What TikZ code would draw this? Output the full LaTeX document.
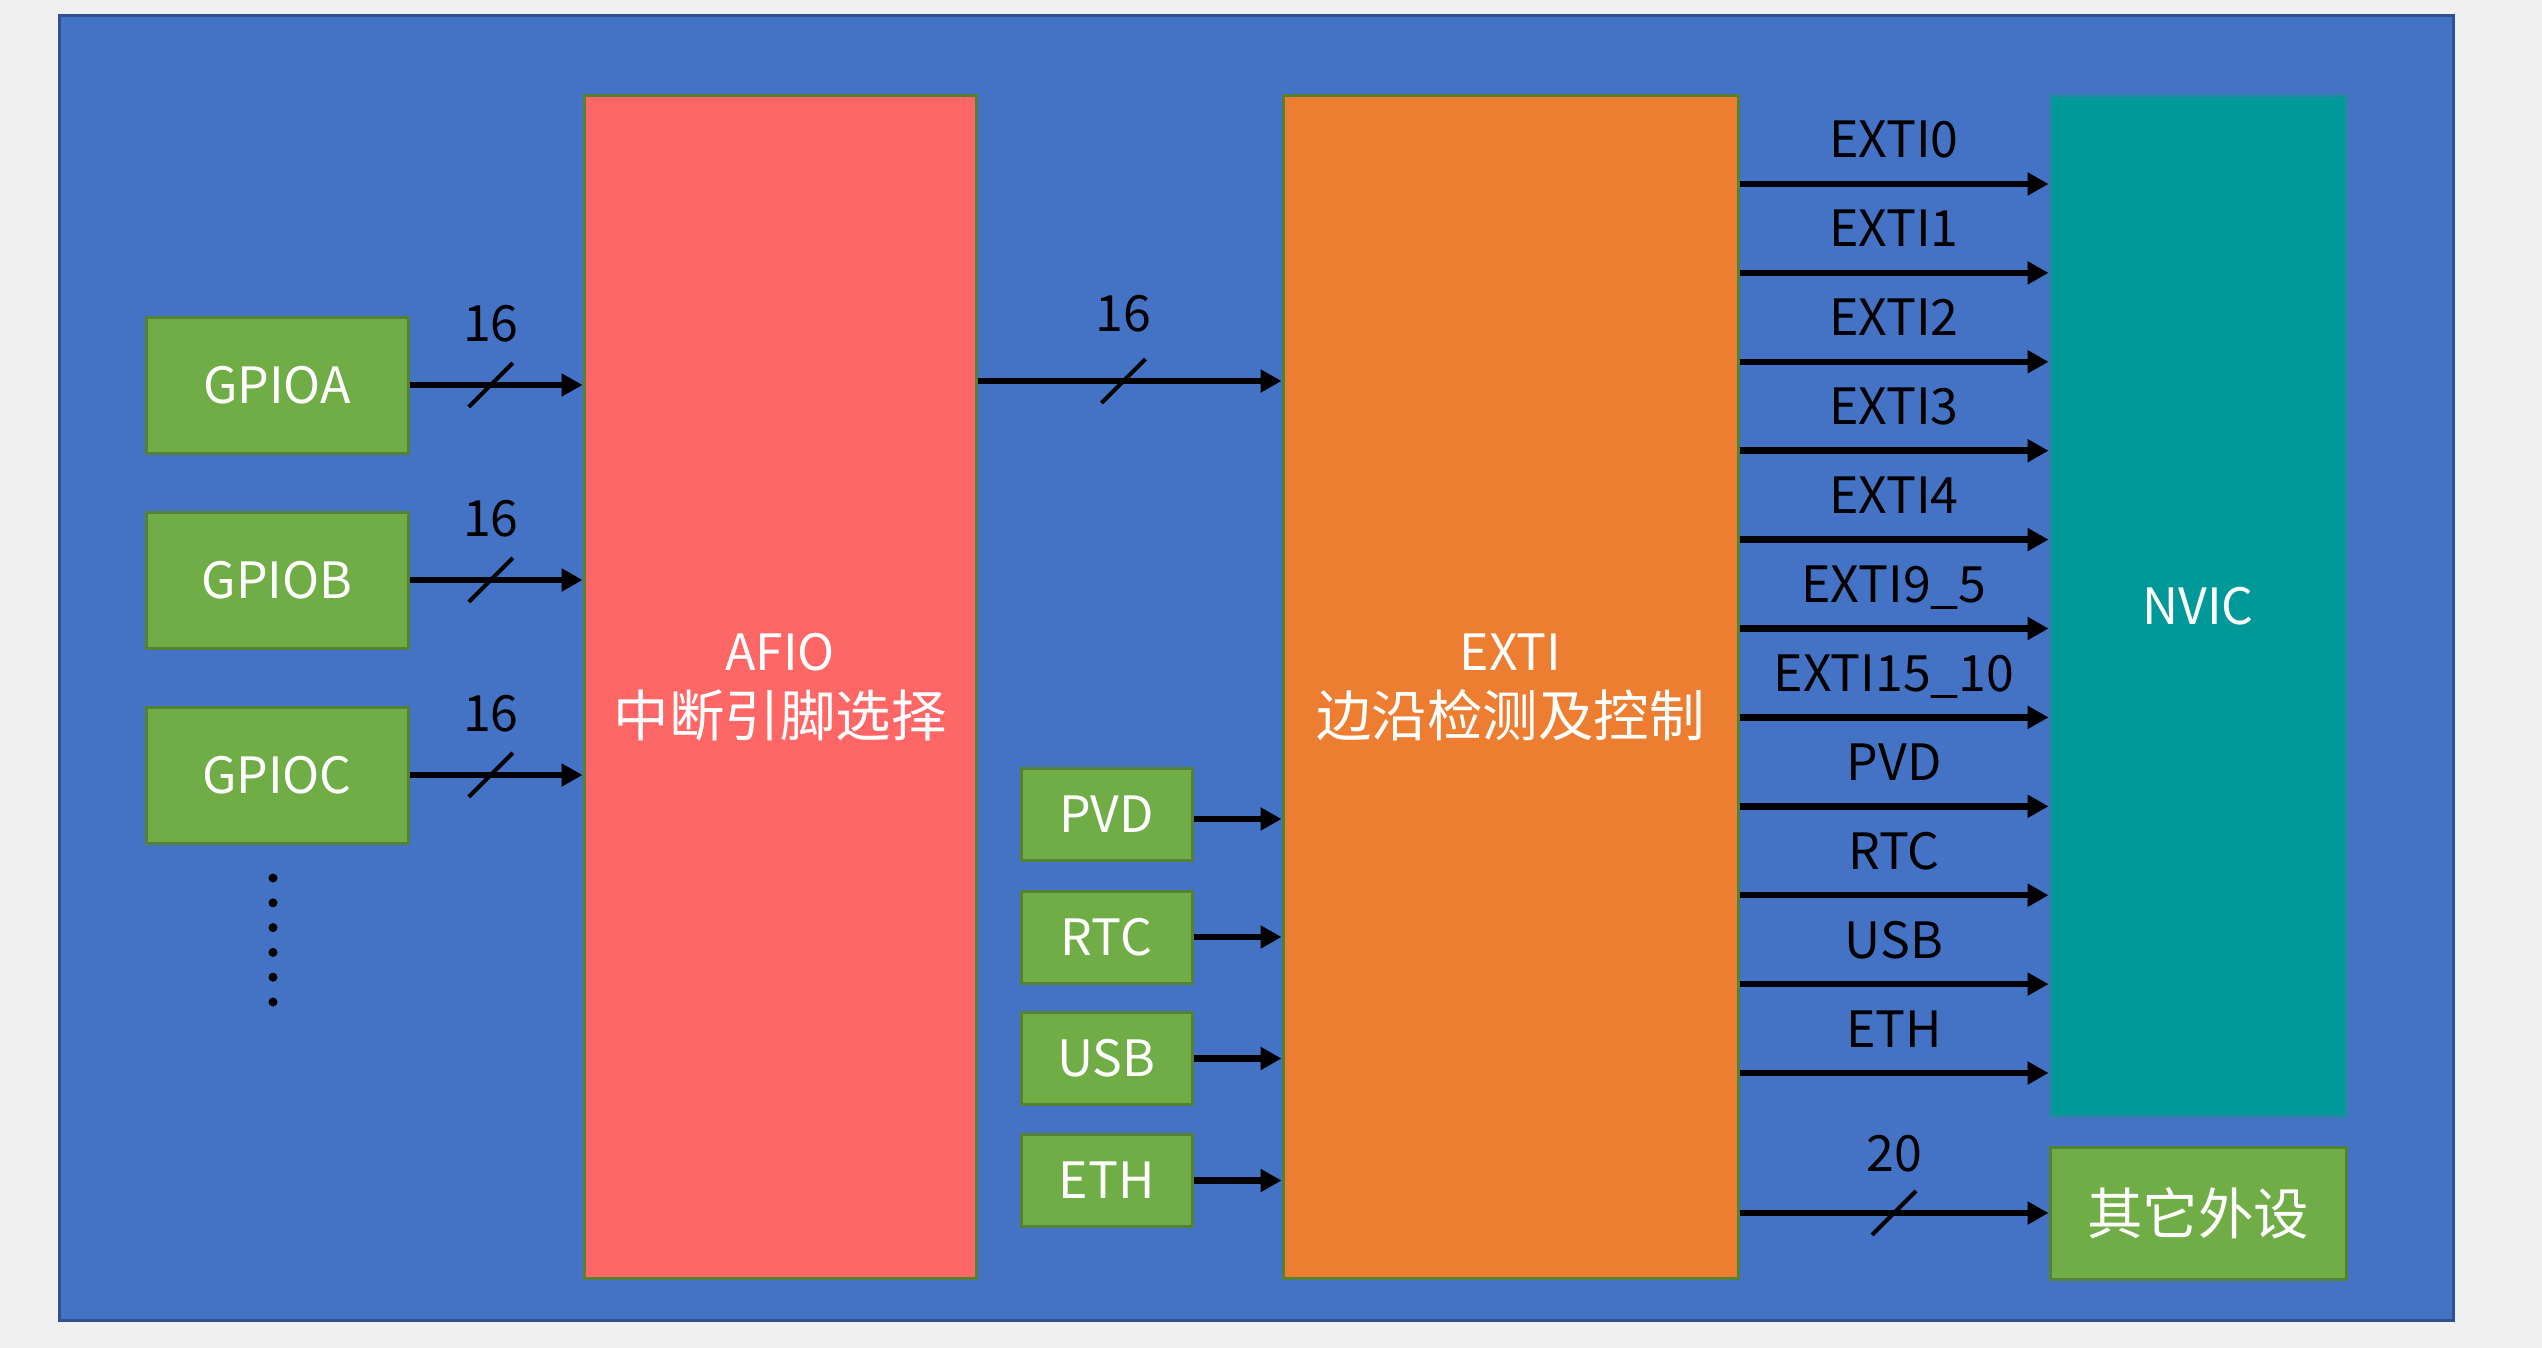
\documentclass[tikz,border=0pt]{standalone}
\usepackage{fontspec}
\setmainfont{Noto Sans CJK SC}
\usetikzlibrary{arrows.meta}
\definecolor{pagebg}{HTML}{F0F0F0}
\definecolor{panel}{HTML}{4472C4}
\definecolor{panelline}{HTML}{2F528F}
\definecolor{afiocol}{HTML}{FF6666}
\definecolor{exticol}{HTML}{ED7D31}
\definecolor{nviccol}{HTML}{009999}
\definecolor{nvicline}{HTML}{2A86A8}
\definecolor{greencol}{HTML}{70AD47}
\definecolor{greenline}{HTML}{538135}
\newcommand\cnsize{\fontsize{55.5}{66}\selectfont}
\begin{document}
\begin{tikzpicture}[x=1pt,y=-1pt,
  txt/.style={font=\fontsize{50}{66}\selectfont},
  blockbox/.style={draw=greenline, line width=3pt, inner sep=0pt, text=white, txt, align=center},
  srcbox/.style={blockbox, fill=greencol},
  sig/.style={line width=6.5pt, -{Triangle[length=21pt,width=22pt]}},
  slashline/.style={line width=4pt},
  lbl/.style={txt, text=black, inner sep=0pt, anchor=base}
]
\useasboundingbox[fill=pagebg] (0,0) rectangle (2542,1348);
\draw[fill=panel, draw=panelline, line width=3pt] (59,16) rectangle (2453,1320);

% main blocks
\node[blockbox, fill=afiocol, minimum width=392pt, minimum height=1182pt] (afio) at (780,687) {AFIO\\{\cnsize 中断引脚选择}};
\node[blockbox, fill=exticol, minimum width=455pt, minimum height=1182pt] (exti) at (1510.5,687) {EXTI\\{\cnsize 边沿检测及控制}};
\node[blockbox, fill=nviccol, draw=nvicline, minimum width=296pt, minimum height=1020pt] (nvic) at (2198,606) {NVIC};
\node[srcbox, minimum width=296pt, minimum height=132pt] (other) at (2198,1213) {\cnsize 其它外设};

% GPIO sources
\node[srcbox, minimum width=262pt, minimum height=136pt] (ga) at (277,385) {GPIOA};
\node[srcbox, minimum width=262pt, minimum height=136pt] (gb) at (277,580) {GPIOB};
\node[srcbox, minimum width=262pt, minimum height=136pt] (gc) at (277,775) {GPIOC};

% small sources
\node[srcbox, minimum width=171pt, minimum height=92pt] (pvd) at (1106.5,814) {PVD};
\node[srcbox, minimum width=171pt, minimum height=92pt] (rtc) at (1106.5,937) {RTC};
\node[srcbox, minimum width=171pt, minimum height=92pt] (usb) at (1106.5,1058.5) {USB};
\node[srcbox, minimum width=171pt, minimum height=92pt] (eth) at (1106.5,1180.5) {ETH};

% dots
\foreach \k in {0,...,5} \fill (273,878+24.8*\k) circle (4.5pt);

% GPIO -> AFIO
\foreach \g in {ga,gb,gc}{
  \draw[sig] (\g.east) -- coordinate[pos=0.47] (\g m) (\g.east -| afio.west);
  \draw[slashline] ([shift={(-22,22)}]\g m) -- ([shift={(22,-22)}]\g m);
  \node[lbl] at ([shift={(0,-44)}]\g m) {16};
}

% AFIO -> EXTI
\coordinate (yae) at (0,381);
\draw[sig] (afio.east |- yae) -- coordinate[pos=0.48] (aem) (exti.west |- yae);
\draw[slashline] ([shift={(-22,22)}]aem) -- ([shift={(22,-22)}]aem);
\node[lbl] at ([shift={(0,-50)}]aem) {16};

% small sources -> EXTI
\draw[sig] ([yshift=-5pt]pvd.east) -- ([yshift=-5pt]pvd.east -| exti.west);
\foreach \s in {rtc,usb,eth}
  \draw[sig] (\s.east) -- (\s.east -| exti.west);

% EXTI -> NVIC
\foreach \t [count=\i from 0] in {EXTI0,EXTI1,EXTI2,EXTI3,EXTI4,EXTI9\_5,EXTI15\_10,PVD,RTC,USB,ETH}{
  \coordinate (yn\i) at (0,184+88.9*\i);
  \draw[sig] (exti.east |- yn\i) -- node[lbl, yshift=26pt] {\t} (nvic.west |- yn\i);
}

% EXTI -> other peripherals
\draw[sig] (exti.east |- other) -- coordinate (om) (other.west);
\draw[slashline] ([shift={(-22,22)}]om) -- ([shift={(22,-22)}]om);
\node[lbl] at ([shift={(0,-42)}]om) {20};
\end{tikzpicture}
\end{document}
